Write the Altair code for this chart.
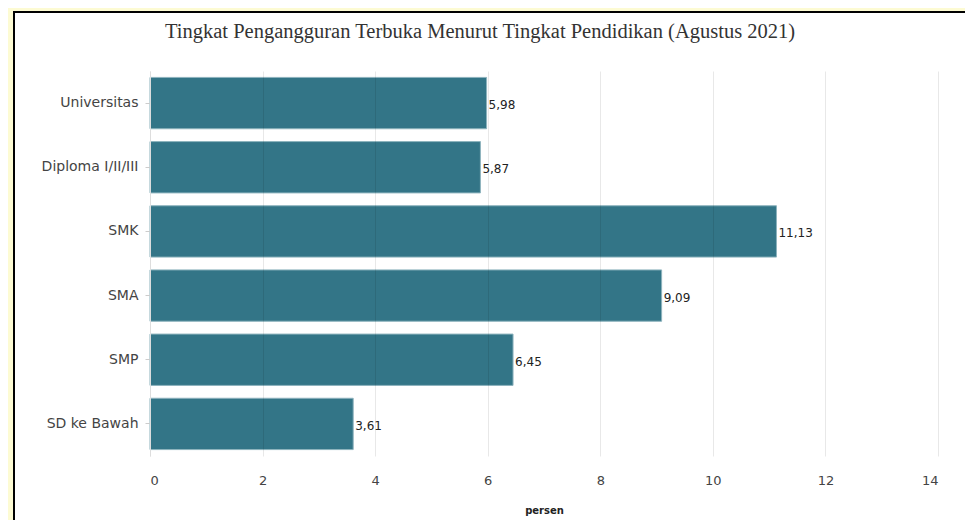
import altair as alt
import pandas as pd

categories = ["Universitas", "Diploma I/II/III", "SMK", "SMA", "SMP", "SD ke Bawah"]
values = [5.98, 5.87, 11.13, 9.09, 6.45, 3.61]
x_ticks = [0, 2, 4, 6, 8, 10, 12, 14]

df = pd.DataFrame({
    "kategori": categories,
    "persen": values,
    "label": [f"{v:.2f}".replace(".", ",") for v in values],
})

title = alt.TitleParams(
    "Tingkat Pengangguran Terbuka Menurut Tingkat Pendidikan (Agustus 2021)",
    font="Liberation Serif", fontSize=20.5, fontWeight="normal", color="#333333",
    anchor="start", frame="group", dx=15, baseline="alphabetic", offset=-47,
)

panel = alt.Chart(df).mark_rect(fill="white", stroke="black", strokeWidth=2).encode(
    x=alt.value(-136), x2=alt.value(900), y=alt.value(-59), y2=alt.value(520)
)

base = alt.Chart(df).encode(
    y=alt.Y("kategori:N", sort=categories, title=None,
            scale=alt.Scale(paddingInner=0.2, paddingOuter=0.1),
            axis=alt.Axis(labelFont="DejaVu Sans", labelFontSize=14, labelColor="#444444",
                          tickColor="#cccccc", tickSize=5, domainColor="#dddddd",
                          labelPadding=7, zindex=1)),
    x=alt.X("persen:Q", title="persen",
            scale=alt.Scale(domain=[0, 14], nice=False),
            axis=alt.Axis(values=x_ticks, labelFont="DejaVu Sans", labelFontSize=13,
                          labelColor="#444444", labelPadding=18, ticks=False, domain=False,
                          gridColor="black", gridOpacity=0.09, titleFont="DejaVu Sans",
                          titleFontSize=10, titleFontWeight="bold", titleColor="#222222",
                          titlePadding=18, zindex=1)),
)

bars = base.mark_bar(color="#337587", stroke="#8db3bd", strokeWidth=1)
texts = base.mark_text(align="left", baseline="middle", dx=2, dy=2,
                       font="DejaVu Sans", fontSize=12, color="#222222").encode(text="label:N")

chart = alt.layer(panel, bars, texts).properties(
    width=788, height=385, title=title,
    autosize=alt.AutoSizeParams(type="none"),
    padding={"left": 142, "top": 63, "right": 27, "bottom": 64},
    background="#fdfbd3",
).configure_view(stroke=None)

chart.save("out.html", embed_options={"renderer": "svg", "actions": False})
